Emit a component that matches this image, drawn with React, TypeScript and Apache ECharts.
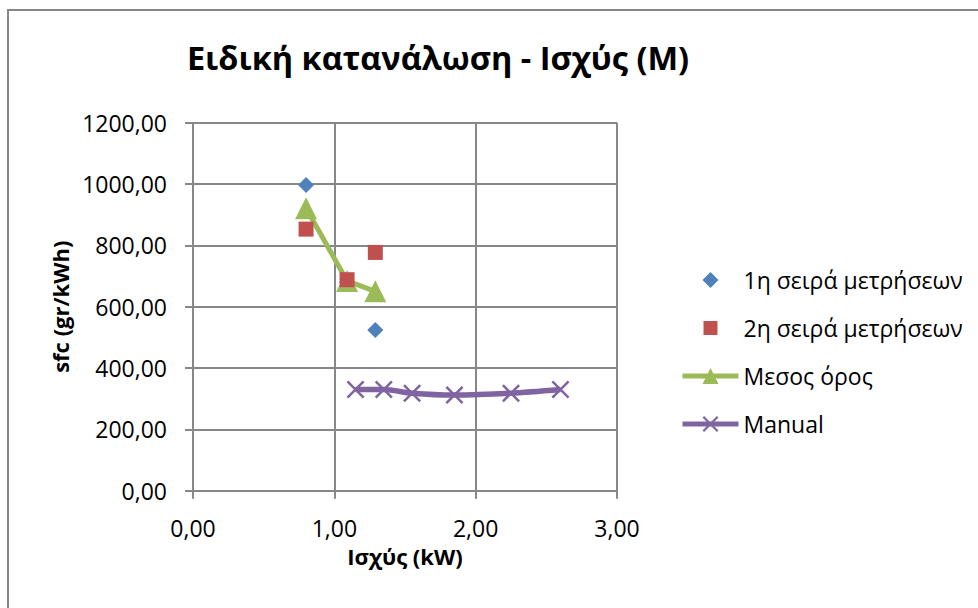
import React, { useEffect, useRef } from "react";
import * as echarts from "echarts";

const titleText = "Ειδική κατανάλωση - Ισχύς (Μ)";
const xName = "Ισχύς (kW)";
const yName = "sfc (gr/kWh)";

const seriesNames = ["1η σειρά μετρήσεων", "2η σειρά μετρήσεων", "Μεσος όρος", "Manual"];

const measX = [0.8, 1.09, 1.29];
const series1Y = [997, 680, 524];
const series2Y = [853, 688, 777];
const meanY = [921, 684, 650];

const manualX = [1.15, 1.35, 1.55, 1.85, 2.25, 2.6];
const manualY = [330, 330, 318, 312, 318, 330];

const pairs = (xs: number[], ys: number[]) => xs.map((x, i) => [x, ys[i]]);

const fmt = (v: number) => v.toFixed(2).replace(".", ",");

const FONT = "'Open Sans', 'Noto Sans', sans-serif";
const GRAY = "#878787";

export default function App() {
  const ref = useRef<HTMLDivElement>(null);
  useEffect(() => {
    if (!ref.current) return;
    const chart = echarts.init(ref.current, null, { renderer: "svg" });
    const xMark = "path://M2,0 L10,8 L18,0 L20,2 L12,10 L20,18 L18,20 L10,12 L2,20 L0,18 L8,10 L0,2 Z";
    const legendDiamond = "path://M0,0 M56,20 M28,2 L36,10 L28,18 L20,10 Z";
    const legendSquare = "path://M0,0 M56,20 M21,3 L35,3 L35,17 L21,17 Z";
    chart.setOption({
      animation: false,
      backgroundColor: "#ffffff",
      textStyle: { fontFamily: FONT },
      graphic: [
        {
          type: "rect",
          shape: { x: 8, y: 10, width: 1000, height: 700 },
          style: { fill: "none", stroke: GRAY, lineWidth: 2 },
          silent: true,
        },
        {
          type: "text",
          x: 438,
          y: 57,
          style: {
            text: titleText,
            fontFamily: FONT,
            fontWeight: "bold",
            fontSize: 32.5,
            fill: "#000",
            textAlign: "center",
            textVerticalAlign: "middle",
          },
        },
      ],
      grid: { left: 193, right: 361, top: 122.7, bottom: 117.3, containLabel: false },
      legend: {
        orient: "vertical",
        left: 675,
        top: 262,
        itemWidth: 56,
        itemHeight: 20,
        itemGap: 22,
        lineStyle: { width: 5 },
        textStyle: { fontFamily: FONT, fontSize: 23, color: "#000", lineHeight: 26 },
        data: [
          { name: seriesNames[0], icon: legendDiamond },
          { name: seriesNames[1], icon: legendSquare },
          { name: seriesNames[2] },
          { name: seriesNames[3] },
        ],
      },
      xAxis: {
        type: "value",
        min: 0,
        max: 3,
        interval: 1,
        name: xName,
        nameLocation: "middle",
        nameGap: 49,
        nameTextStyle: { fontFamily: FONT, fontWeight: "bold", fontSize: 22, color: "#000" },
        axisLine: { show: true, lineStyle: { color: GRAY, width: 2 } },
        axisTick: { show: true, length: 8, lineStyle: { color: GRAY, width: 2 } },
        axisLabel: { formatter: fmt, fontSize: 23, color: "#000", margin: 26, fontFamily: FONT },
        splitLine: { show: true, lineStyle: { color: GRAY, width: 2 } },
      },
      yAxis: {
        type: "value",
        min: 0,
        max: 1200,
        interval: 200,
        name: yName,
        nameLocation: "middle",
        nameGap: 122,
        nameTextStyle: { fontFamily: FONT, fontWeight: "bold", fontSize: 22, color: "#000" },
        axisLine: { show: true, lineStyle: { color: GRAY, width: 2 } },
        axisTick: { show: true, length: 8, lineStyle: { color: GRAY, width: 2 } },
        axisLabel: { formatter: fmt, fontSize: 23, color: "#000", margin: 26, fontFamily: FONT },
        splitLine: { show: true, lineStyle: { color: GRAY, width: 2 } },
      },
      series: [
        {
          name: seriesNames[0],
          type: "scatter",
          symbol: "diamond",
          symbolSize: 16,
          itemStyle: { color: "#4F81BD", opacity: 1 },
          data: pairs(measX, series1Y),
          z: 2,
        },
        {
          name: seriesNames[1],
          type: "scatter",
          symbol: "rect",
          symbolSize: 15,
          itemStyle: { color: "#C0504D", opacity: 1 },
          data: pairs(measX, series2Y),
          z: 4,
        },
        {
          name: seriesNames[2],
          type: "line",
          symbol: "triangle",
          symbolSize: 22,
          showAllSymbol: true,
          lineStyle: { color: "#9BBB59", width: 5 },
          itemStyle: { color: "#9BBB59" },
          data: pairs(measX, meanY),
          z: 3,
        },
        {
          name: seriesNames[3],
          type: "line",
          smooth: 0.3,
          symbol: xMark,
          symbolSize: 18,
          showAllSymbol: true,
          lineStyle: { color: "#8064A2", width: 5.5 },
          itemStyle: { color: "#8064A2" },
          data: pairs(manualX, manualY),
          z: 3,
        },
      ],
    });
    return () => chart.dispose();
  }, []);
  return (
    <div
      ref={ref}
      style={{ position: "absolute", left: 0, top: 0, width: 978, height: 608 }}
    />
  );
}
